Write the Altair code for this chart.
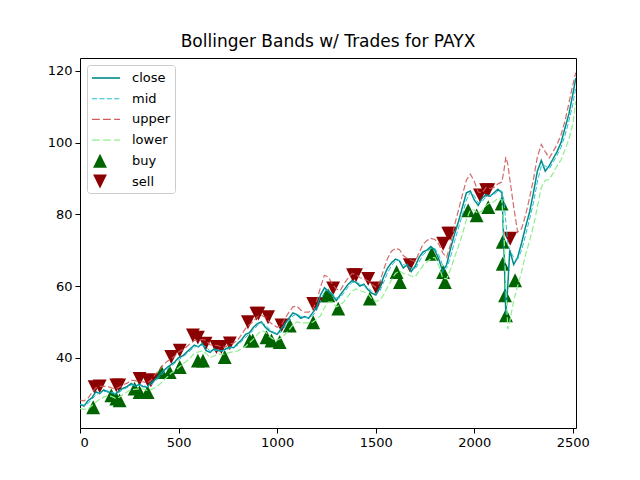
import altair as alt
import pandas as pd

# ---- price series ----
idx = [0, 20, 40, 60, 80, 100, 120, 140, 160, 180, 200, 220, 240, 260, 280, 300, 320, 340, 360, 380,
       400, 420, 440, 460, 480, 500, 520, 540, 560, 580, 600, 620, 640, 660, 680, 700, 720, 740, 760, 780,
       800, 820, 840, 860, 880, 900, 920, 940, 960, 980, 1000, 1020, 1040, 1060, 1080, 1100, 1120, 1140, 1160, 1180,
       1200, 1220, 1240, 1260, 1280, 1300, 1320, 1340, 1360, 1380, 1400, 1420, 1440, 1460, 1480, 1500, 1520, 1540, 1560, 1580,
       1600, 1620, 1640, 1660, 1680, 1700, 1720, 1740, 1760, 1780, 1800, 1820, 1840, 1860, 1880, 1900, 1920, 1940, 1960, 1980,
       2000, 2020, 2040, 2060, 2080, 2100, 2120, 2140, 2150, 2160, 2170, 2180, 2200, 2220, 2240, 2260, 2280, 2300, 2320, 2340,
       2360, 2380, 2400, 2420, 2440, 2460, 2480, 2500, 2515]

close = [27.0, 26.5, 28.0, 28.8, 30.5, 30.0, 31.0, 30.5, 30.2, 29.8, 31.0, 31.5, 32.0, 32.8, 32.0, 32.6, 32.0, 31.8, 33.0, 33.8,
         35.0, 36.2, 37.2, 38.0, 38.8, 40.0, 40.5, 41.5, 42.5, 43.5, 43.0, 44.0, 42.0, 41.5, 42.5, 42.0, 41.8, 42.5, 43.0, 42.8,
         44.0, 45.0, 46.5, 47.0, 48.5, 49.5, 50.0, 48.5, 47.5, 47.0, 46.5, 48.0, 49.5, 51.0, 52.5, 52.0, 51.0, 51.5, 51.0, 52.5,
         54.0, 57.5, 59.5, 58.5, 57.5, 56.0, 57.5, 59.0, 60.5, 61.5, 61.0, 60.0, 60.5, 59.0, 58.0, 57.5, 59.5, 62.5, 65.0, 66.5,
         67.5, 67.0, 65.0, 66.0, 64.0, 65.5, 68.0, 69.5, 70.0, 71.0, 70.0, 67.5, 64.0, 66.0, 70.5, 74.5, 78.0, 82.0, 86.0, 86.5,
         84.0, 82.5, 84.5, 85.5, 85.0, 86.0, 87.0, 86.0, 72.0, 52.0, 60.0, 70.0, 66.0, 68.0, 72.0, 76.5, 80.5, 86.0, 92.0, 95.0,
         92.0, 93.5, 95.5, 97.5, 100.0, 104.0, 108.0, 113.5, 118.0]

mid = [27.0, 26.8, 27.2, 28.4, 29.6, 30.2, 30.5, 30.7, 30.4, 30.0, 30.4, 31.2, 31.7, 32.4, 32.4, 32.3, 32.3, 31.9, 32.4, 33.4,
       34.4, 35.6, 36.7, 37.6, 38.4, 39.4, 40.2, 41.0, 42.0, 43.0, 43.2, 43.5, 43.0, 41.8, 42.0, 42.2, 41.9, 42.1, 42.7, 42.9,
       43.4, 44.5, 45.7, 46.7, 47.7, 49.0, 49.7, 49.2, 48.0, 47.2, 46.7, 47.2, 48.7, 50.2, 51.7, 52.2, 51.5, 51.2, 51.2, 51.7,
       53.2, 55.7, 58.5, 59.0, 58.0, 56.7, 56.7, 58.2, 59.7, 61.0, 61.2, 60.5, 60.2, 59.7, 58.5, 57.7, 58.5, 61.0, 63.7, 65.7,
       67.0, 67.2, 66.0, 65.5, 65.0, 64.7, 66.7, 68.7, 69.7, 70.5, 70.5, 68.7, 65.7, 65.0, 68.2, 72.5, 76.2, 80.0, 84.0, 86.2,
       85.2, 83.2, 83.5, 85.0, 85.2, 85.5, 86.5, 86.5, 84.0, 78.0, 72.0, 70.0, 68.0, 67.5, 70.0, 74.2, 78.5, 83.2, 89.0, 93.5,
       93.5, 92.7, 94.5, 96.5, 98.7, 102.0, 106.0, 110.7, 115.5]

upper = [28.2, 28.0, 28.7, 30.2, 31.6, 32.0, 32.0, 32.0, 31.6, 31.3, 31.8, 32.5, 32.9, 33.7, 33.6, 33.3, 33.3, 32.9, 33.7, 35.2,
         36.4, 37.8, 38.9, 39.6, 40.4, 41.6, 42.2, 43.0, 44.0, 44.8, 44.8, 45.1, 44.8, 43.6, 43.5, 43.4, 42.9, 43.1, 43.9, 44.1,
         44.9, 46.5, 48.2, 49.2, 50.2, 51.5, 51.9, 51.2, 50.0, 49.2, 48.5, 49.0, 50.9, 52.7, 54.2, 54.4, 53.3, 52.7, 52.7, 53.5,
         55.7, 59.7, 63.0, 62.5, 60.5, 59.2, 58.7, 60.7, 62.2, 63.5, 63.2, 62.3, 62.0, 61.5, 60.5, 59.7, 61.0, 64.5, 67.7, 69.7,
         70.5, 70.2, 68.5, 67.7, 67.2, 66.9, 69.2, 71.7, 72.7, 73.3, 73.0, 71.7, 69.2, 68.0, 71.7, 77.0, 81.2, 85.5, 89.5, 91.2,
         89.2, 86.2, 86.0, 87.5, 87.2, 87.5, 88.5, 89.0, 92.0, 96.0, 94.0, 90.0, 82.0, 75.0, 76.0, 79.7, 84.5, 89.7, 96.0, 99.5,
         97.5, 95.7, 97.5, 99.5, 102.2, 106.0, 111.0, 116.2, 119.5]

lower = [25.8, 25.6, 25.7, 26.6, 27.6, 28.4, 29.0, 29.4, 29.2, 28.7, 29.0, 29.9, 30.5, 31.1, 31.2, 31.3, 31.3, 30.9, 31.1, 31.6,
         32.4, 33.4, 34.5, 35.6, 36.4, 37.2, 38.2, 39.0, 40.0, 41.2, 41.6, 41.9, 41.2, 40.0, 40.5, 41.0, 40.9, 41.1, 41.5, 41.7,
         41.9, 42.5, 43.2, 44.2, 45.2, 46.5, 47.5, 47.2, 46.0, 45.2, 44.9, 45.4, 46.5, 47.7, 49.2, 50.0, 49.7, 49.7, 49.7, 49.9,
         50.7, 51.7, 54.0, 55.5, 55.5, 54.2, 54.7, 55.7, 57.2, 58.5, 59.2, 58.7, 58.4, 57.9, 56.5, 55.7, 56.0, 57.5, 59.7, 61.7,
         63.5, 64.2, 63.5, 63.3, 62.8, 62.5, 64.2, 65.7, 66.7, 67.7, 68.0, 65.7, 62.2, 62.0, 64.7, 68.0, 71.2, 74.5, 78.5, 81.2,
         81.2, 80.2, 81.0, 82.5, 83.2, 83.5, 84.5, 84.0, 76.0, 60.0, 48.0, 50.0, 56.0, 60.0, 64.0, 68.7, 72.5, 76.7, 82.0, 87.5,
         89.5, 89.7, 91.5, 93.5, 95.2, 98.0, 101.0, 105.2, 111.5]

# ---- trades ----
buy_idx = [67, 159, 184, 201, 277, 302, 343, 413, 455, 506, 598, 624, 734, 861, 876, 946, 971, 1013, 1064, 1183,
           1250, 1260, 1310, 1470, 1606, 1623, 1784, 1842, 1851, 1969, 2012, 2071, 2139, 2144, 2144, 2156, 2161, 2207]
buy_px = [26.2, 29.5, 28.6, 28.1, 31.4, 30.4, 30.4, 36.0, 36.0, 37.4, 39.2, 39.2, 40.2, 44.8, 44.8, 45.7, 44.8, 44.4, 49.0, 49.9,
          57.4, 57.4, 53.7, 56.5, 63.9, 61.1, 69.0, 63.9, 61.1, 81.1, 79.7, 82.0, 83.0, 72.3, 66.2, 57.4, 51.8, 61.6]
sell_idx = [74, 100, 184, 199, 302, 345, 360, 463, 506, 573, 598, 637, 692, 717, 760, 852, 895, 905, 954, 1022,
            1183, 1198, 1284, 1385, 1400, 1462, 1504, 1673, 1842, 1868, 1877, 2029, 2060, 2071, 2182]
sell_px = [31.8, 32.0, 32.3, 32.3, 34.1, 33.7, 33.7, 40.2, 42.0, 46.2, 45.6, 43.9, 43.0, 43.0, 44.0, 49.9, 52.3, 52.3, 51.3, 49.0,
           55.0, 55.0, 59.3, 63.0, 63.0, 62.0, 59.3, 65.8, 71.8, 74.6, 74.6, 85.3, 86.7, 86.7, 73.2]

series_names = ["close", "mid", "upper", "lower", "buy", "sell"]
series_colors = ["#008b8b", "#1fbfcf", "#cd5c5c", "#90ee90", "#006400", "#8b0000"]
tick_x = [0, 500, 1000, 1500, 2000, 2500]
tick_y = [40, 60, 80, 100, 120]

# legend / marker symbol paths (unit = sqrt(size)/2)
shape_paths = [
    "M-0.89,-0.09H2.22V0.09H-0.89Z",
    "M-0.89,-0.055H-0.32V0.055H-0.89ZM-0.07,-0.055H0.5V0.055H-0.07ZM0.75,-0.055H1.32V0.055H0.75ZM1.57,-0.055H2.14V0.055H1.57Z",
    "M-0.89,-0.08H-0.03V0.08H-0.89ZM0.34,-0.08H1.2V0.08H0.34ZM1.57,-0.08H2.22V0.08H1.57Z",
    "M-0.89,-0.08H-0.03V0.08H-0.89ZM0.34,-0.08H1.2V0.08H0.34ZM1.57,-0.08H2.22V0.08H1.57Z",
    "M0,-0.77L0.77,0.77L-0.77,0.77Z",
    "M0,0.77L0.77,-0.77L-0.77,-0.77Z",
]

prices = pd.DataFrame({"idx": idx, "close": close, "mid": mid, "upper": upper, "lower": lower})
trades = pd.DataFrame({
    "idx": buy_idx + sell_idx,
    "price": buy_px + sell_px,
    "series": ["buy"] * len(buy_idx) + ["sell"] * len(sell_idx),
})

xscale = alt.Scale(domain=[0, 2516], nice=False, zero=False)
yscale = alt.Scale(domain=[20.4, 123.6], nice=False, zero=False)
xaxis = alt.Axis(values=tick_x, title=None, format="d", grid=False)
yaxis = alt.Axis(values=tick_y, title=None, format="d", grid=False)

leg = alt.Legend(
    title=None, orient="top-left", offset=7, padding=4, rowPadding=4.7,
    symbolSize=324, symbolStrokeWidth=0, symbolOpacity=1,
    labelFontSize=13, labelFont="DejaVu Sans", labelColor="black", labelOffset=23,
    strokeColor="#cccccc", fillColor="white", cornerRadius=3,
)

points = alt.Chart(trades).mark_point(filled=True, size=324, opacity=1).encode(
    x=alt.X("idx:Q", scale=xscale, axis=xaxis),
    y=alt.Y("price:Q", scale=yscale, axis=yaxis),
    fill=alt.Fill("series:N", scale=alt.Scale(domain=series_names, range=series_colors), legend=leg),
    shape=alt.Shape("series:N", scale=alt.Scale(domain=series_names, range=shape_paths), legend=leg),
)

def line(field, color, width, dash=None, opacity=1.0):
    kw = dict(color=color, strokeWidth=width, opacity=opacity, clip=True)
    if dash:
        kw["strokeDash"] = dash
    return alt.Chart(prices).mark_line(**kw).encode(
        x=alt.X("idx:Q", scale=xscale, axis=xaxis),
        y=alt.Y(f"{field}:Q", scale=yscale, axis=yaxis),
    )

chart = alt.layer(
    points,
    line("close", series_colors[0], 1.5),
    line("mid", series_colors[1], 1.0, [5, 2.2]),
    line("upper", series_colors[2], 1.2, [6, 2.6], 0.9),
    line("lower", series_colors[3], 1.2, [6, 2.6]),
).properties(
    width=496,
    height=370,
    autosize=alt.AutoSizeParams(type="none"),
    padding={"left": 72, "top": 50, "right": 56, "bottom": 44},
    title=alt.Title("Bollinger Bands w/ Trades for PAYX", fontSize=17, font="DejaVu Sans",
                    fontWeight="normal", color="black", anchor="middle", frame="group",
                    baseline="bottom", offset=-10),
).configure_view(
    stroke="black", strokeWidth=1
).configure_axis(
    domain=False, tickColor="black", tickSize=5, tickWidth=1,
    labelColor="black", labelFont="DejaVu Sans", labelFontSize=13, labelPadding=3,
)

chart.save("out.html", embed_options={"renderer": "svg", "actions": False})
